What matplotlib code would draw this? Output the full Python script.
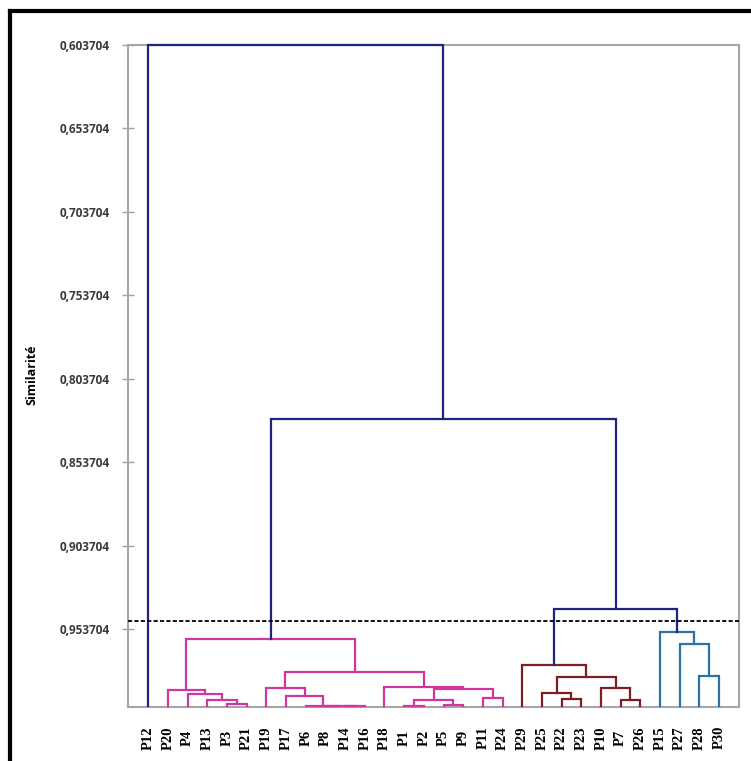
import matplotlib.pyplot as plt
from matplotlib.lines import Line2D

plt.rcParams['lines.scale_dashes'] = False

# leaf order along the x axis
leaves = ['P12', 'P20', 'P4', 'P13', 'P3', 'P21', 'P19', 'P17', 'P6', 'P8',
          'P14', 'P16', 'P18', 'P1', 'P2', 'P5', 'P9', 'P11', 'P24', 'P29',
          'P25', 'P22', 'P23', 'P10', 'P7', 'P26', 'P15', 'P27', 'P28', 'P30']

# merges: (left child, right child, similarity); int child = index of an earlier merge
merges = [
    ('P3', 'P21', 0.9985),   # 0
    ('P13', 0, 0.9962),      # 1
    ('P4', 1, 0.9927),       # 2
    ('P20', 2, 0.9903),      # 3
    ('P14', 'P16', 0.99995), # 4
    ('P8', 4, 0.9999),       # 5
    ('P6', 5, 0.9998),       # 6
    ('P17', 6, 0.9939),      # 7
    ('P19', 7, 0.9892),      # 8
    ('P1', 'P2', 0.9998),    # 9
    ('P5', 'P9', 0.9992),    # 10
    (9, 10, 0.9962),         # 11
    ('P11', 'P24', 0.9952),  # 12
    (11, 12, 0.9898),        # 13
    ('P18', 13, 0.9883),     # 14
    (8, 14, 0.9795),         # 15
    (3, 15, 0.9597),         # 16
    ('P22', 'P23', 0.9958),  # 17
    ('P25', 17, 0.9919),     # 18
    ('P7', 'P26', 0.9962),   # 19
    ('P10', 19, 0.9892),     # 20
    (18, 20, 0.9823),        # 21
    ('P29', 21, 0.9755),     # 22
    ('P28', 'P30', 0.9819),  # 23
    ('P27', 23, 0.9627),     # 24
    ('P15', 24, 0.9553),     # 25
    (22, 25, 0.9419),        # 26
    (16, 26, 0.8279),        # 27
    ('P12', 27, 0.603704),   # 28
]

threshold = 0.9487
y_ticks = [0.603704, 0.653704, 0.703704, 0.753704, 0.803704, 0.853704, 0.903704, 0.953704]
y_tick_labels = [f'{t:.6f}'.replace('.', ',') for t in y_ticks]

navy = '#22227f'
cluster_colors = ['#d0379c', '#7d1f22', '#2d72a6']

pos = {name: i for i, name in enumerate(leaves)}
xs = []
for a, b, h in merges:
    xa = pos[a] if isinstance(a, str) else xs[a]
    xb = pos[b] if isinstance(b, str) else xs[b]
    xs.append((xa + xb) / 2)

# parent of each merge, to find cluster roots below the cut line
parent = {}
for i, (a, b, h) in enumerate(merges):
    for c in (a, b):
        if not isinstance(c, str):
            parent[c] = i

def cluster_root(i):
    while i in parent and merges[parent[i]][2] > threshold:
        i = parent[i]
    return i

roots = sorted({cluster_root(i) for i, m in enumerate(merges) if m[2] > threshold},
               key=lambda r: xs[r])
root_color = {r: cluster_colors[k] for k, r in enumerate(roots)}

fig = plt.figure(figsize=(7.51, 7.61), dpi=100)
ax = fig.add_axes([0.170, 0.0716, 0.8144, 0.8693])

for i, (a, b, h) in enumerate(merges):
    xa, ya = (pos[a], 1.0) if isinstance(a, str) else (xs[a], merges[a][2])
    xb, yb = (pos[b], 1.0) if isinstance(b, str) else (xs[b], merges[b][2])
    color = root_color[cluster_root(i)] if h > threshold else navy
    ax.plot([xa, xa, xb, xb], [ya, h, h, yb], color=color, lw=1.6, zorder=3,
            clip_on=False, solid_joinstyle='miter')

ax.axhline(threshold, color='black', lw=1.3, ls=(0, (3, 1.6)), zorder=4)

ax.set_xlim(-1.05, 30.03)
ax.set_ylim(1.0002, 0.603704)

ax.set_xticks(range(len(leaves)))
ax.set_xticklabels(leaves, rotation=90, fontfamily='Liberation Serif',
                   fontweight='bold', fontsize=10.5)
for lab in ax.get_xticklabels():
    lab.set_va('center')
ax.tick_params(axis='x', length=0, pad=22.5)

ax.set_yticks(y_ticks)
ax.set_yticklabels(y_tick_labels, fontfamily='Open Sans', fontweight='bold', fontsize=8.5,
                   color='#3a3a3a')
ax.tick_params(axis='y', direction='inout', length=8, width=1, color='#a0a0a0', pad=9)

for s in ax.spines.values():
    s.set_color('#a6a6a6')
    s.set_linewidth(1.5)

fig.text(32 / 751, 1 - 375 / 761, 'Similarité', rotation=90, ha='center', va='center',
         fontfamily='Open Sans', fontweight='bold', fontsize=9)

# black frame around the picture (cut off at right and bottom)
fig.add_artist(Line2D([10.3 / 751, 10.3 / 751], [-0.01, 1 - 11 / 761], color='black',
                      lw=3, transform=fig.transFigure, solid_capstyle='projecting'))
fig.add_artist(Line2D([10.3 / 751, 1.01], [1 - 11 / 761, 1 - 11 / 761], color='black',
                      lw=3, transform=fig.transFigure, solid_capstyle='projecting'))

fig.savefig('out.png', dpi=100)
